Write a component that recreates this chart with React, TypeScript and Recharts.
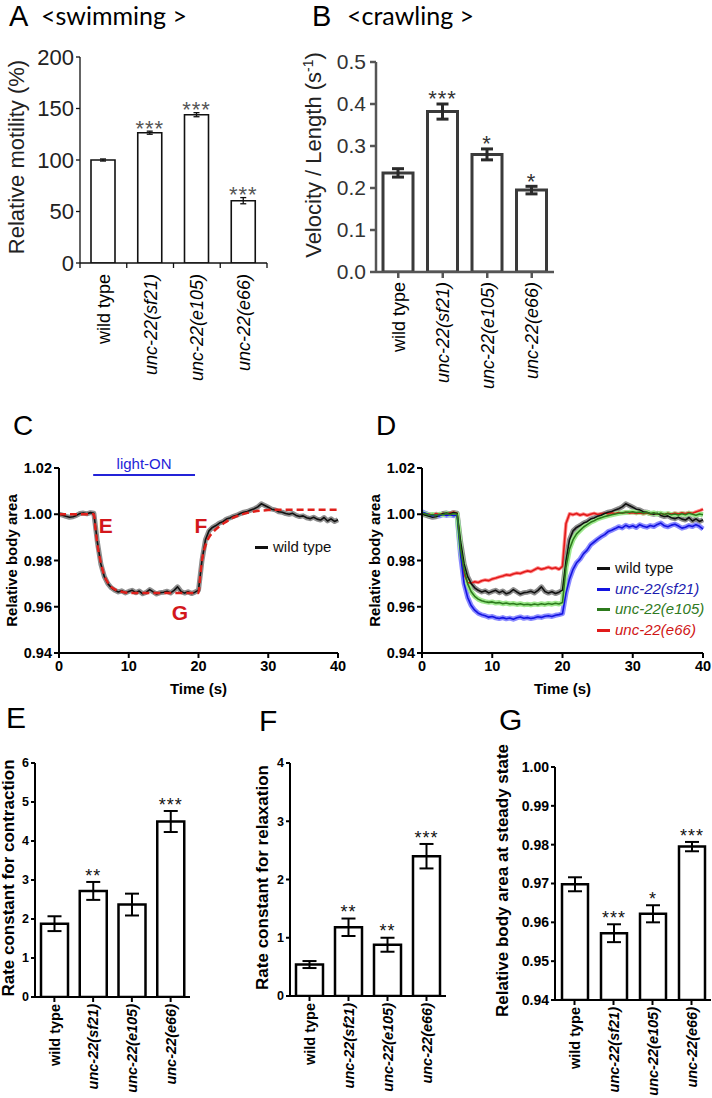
import React from "react";
import {
  BarChart,
  Bar,
  XAxis,
  YAxis,
  ErrorBar,
  LabelList,
  ComposedChart,
  Line,
  Scatter,
  ReferenceLine,
  Legend,
} from "recharts";

const ARIAL = "'Liberation Sans', Arial, Helvetica, sans-serif";
const TITLE_FONT = "Lato, 'Open Sans', sans-serif";

const strains = ["wild type", "unc-22(sf21)", "unc-22(e105)", "unc-22(e66)"];

// A: swimming
const swimMotility = [100, 126.5, 144, 60.5];
const swimSem = [1, 1.5, 2, 3];
const swimStars = ["", "***", "***", "***"];
const swimTicks = [0, 50, 100, 150, 200];

// B: crawling
const crawlVelocity = [0.236, 0.382, 0.28, 0.195];
const crawlSem = [0.01, 0.018, 0.013, 0.009];
const crawlStars = ["", "***", "*", "*"];
const crawlTicks = [0, 0.1, 0.2, 0.3, 0.4, 0.5];

// E: contraction rate
const contractionRate = [1.88, 2.72, 2.37, 4.5];
const contractionSem = [0.19, 0.23, 0.28, 0.27];
const contractionStars = ["", "**", "", "***"];
const contractionTicks = [0, 1, 2, 3, 4, 5, 6];

// F: relaxation rate
const relaxationRate = [0.54, 1.18, 0.88, 2.4];
const relaxationSem = [0.06, 0.15, 0.12, 0.21];
const relaxationStars = ["", "**", "**", "***"];
const relaxationTicks = [0, 1, 2, 3, 4];

// G: steady state body area
const steadyArea = [0.9698, 0.9572, 0.9622, 0.9795];
const steadySem = [0.0018, 0.0023, 0.0022, 0.0012];
const steadyStars = ["", "***", "*", "***"];
const steadyTicks = [0.94, 0.95, 0.96, 0.97, 0.98, 0.99, 1.0];

// C / D: body area traces, one sample every 0.5 s from 0 to 40 s
const SAMPLE_STEP = 0.5;
const timeTicks = [0, 10, 20, 30, 40];
const areaTicks = [0.94, 0.96, 0.98, 1.0, 1.02];

const wildTypeTrace = [
  1.0, 0.9996, 0.9991, 0.9987, 0.9989, 0.9995, 1.0003, 1.0005, 1.0002, 1.0007,
  1.0004, 0.988, 0.9785, 0.973, 0.97, 0.9682, 0.9671, 0.9664, 0.9669, 0.966,
  0.9666, 0.9671, 0.9661, 0.9668, 0.9656, 0.9662, 0.9674, 0.9664, 0.9655, 0.9661,
  0.9663, 0.9667, 0.966, 0.9671, 0.9686, 0.9666, 0.9659, 0.9665, 0.9657, 0.9663,
  0.9672, 0.98, 0.989, 0.9928, 0.9943, 0.9951, 0.9962, 0.9968, 0.9979, 0.9984,
  0.9991, 0.9996, 1.0003, 1.0009, 1.0012, 1.0018, 1.0024, 1.0032, 1.0045, 1.0038,
  1.003, 1.0022, 1.0019, 1.0011, 1.0009, 1.0003, 1.0, 1.0004, 0.9995, 0.999,
  0.9993, 0.9985, 0.9981, 0.9987, 0.9979, 0.9975, 0.9986, 0.9971, 0.998, 0.9969,
  0.9976,
];

const sf21Trace = [
  1.001, 1.0004, 0.9998, 0.9994, 0.9997, 0.9993, 0.9999, 0.9995, 0.9998, 0.9994,
  0.9996, 0.982, 0.97, 0.964, 0.9605, 0.9585, 0.9572, 0.9565, 0.9561, 0.9555,
  0.9558, 0.9552, 0.9549, 0.9553, 0.9548, 0.9551, 0.9546, 0.9552, 0.9556, 0.955,
  0.9553, 0.9549, 0.9552, 0.9557, 0.9554, 0.9559, 0.9561, 0.9558, 0.9563, 0.9566,
  0.957, 0.966, 0.972, 0.9762, 0.979, 0.9806, 0.983, 0.9845, 0.9868, 0.988,
  0.9892, 0.9903, 0.9912, 0.9925, 0.9931, 0.9938, 0.9946, 0.9941, 0.9952, 0.9945,
  0.995, 0.9943, 0.9955, 0.9948, 0.9944, 0.9951, 0.9947, 0.9956, 0.9962, 0.995,
  0.9946, 0.9953, 0.9957, 0.9949, 0.994, 0.9944, 0.9951, 0.9947, 0.9955, 0.9948,
  0.9936,
];

const e105Trace = [
  1.0005, 1.0001, 0.9997, 0.9999, 0.9995, 1.0, 0.9998, 1.0003, 0.9999, 1.0002,
  1.0, 0.985, 0.976, 0.97, 0.9665, 0.9645, 0.9633, 0.9626, 0.9622, 0.9619,
  0.9621, 0.9616, 0.9618, 0.9613, 0.9616, 0.9612, 0.9614, 0.961, 0.9613, 0.9609,
  0.9611, 0.9608, 0.9612, 0.9609, 0.9613, 0.961, 0.9614, 0.9611, 0.9615, 0.9612,
  0.9618, 0.977, 0.985, 0.989, 0.9915, 0.993, 0.9945, 0.9955, 0.9965, 0.9972,
  0.998, 0.9985, 0.999, 0.9994, 0.9998, 1.0001, 1.0004, 1.0006, 1.0008, 1.0009,
  1.0011, 1.0007, 1.001, 1.0005, 1.0008, 1.0003, 1.0006, 1.0001, 1.0004, 0.9999,
  1.0003, 0.9998, 1.0001, 0.9997, 1.0002, 0.9998, 1.0004, 1.0, 0.9996, 1.0001,
  0.9998,
];

const e66Trace = [
  1.0002, 0.9998, 1.0001, 0.9996, 1.0003, 0.9999, 1.0004, 1.0, 1.0006, 1.001,
  1.0004, 0.985, 0.974, 0.9705, 0.9702, 0.9708, 0.9705, 0.9712, 0.9716, 0.9713,
  0.972, 0.9724, 0.9729, 0.9733, 0.9738, 0.9736, 0.9742, 0.9746, 0.9744, 0.975,
  0.9755, 0.9752, 0.976, 0.9768, 0.9762, 0.9766, 0.9771, 0.9765, 0.9769, 0.9762,
  0.9775, 0.996, 1.0002, 0.9998, 1.0003, 0.9996, 1.0001, 0.9995, 1.0, 1.0004,
  0.9999, 1.0002, 1.0005, 1.0001, 1.0006, 1.0003, 1.0008, 1.0004, 1.0009, 1.0005,
  1.0007, 1.0003, 1.0006, 1.0002, 1.0005, 1.0001, 1.0004, 1.0, 1.0003, 0.9999,
  1.0004, 1.0001, 1.0005, 1.0002, 1.0006, 1.0003, 1.0008, 1.0004, 1.001, 1.0015,
  1.0022,
];

// C: fitted curve (red dashed)
const fitTime = [0, 5, 5.25, 5.5, 6, 6.5, 7, 7.5, 8, 9, 10, 20, 20.25, 20.5, 21, 21.5, 22, 23, 24, 25, 26, 27, 28, 30, 32, 40];
const fitValue = [
  1.0, 1.0, 0.993, 0.987, 0.979, 0.9735, 0.9705, 0.9685, 0.9675, 0.9665, 0.966, 0.966, 0.9735,
  0.98, 0.9865, 0.99, 0.992, 0.9948, 0.9968, 0.9985, 0.9997, 1.0006, 1.0012, 1.0018, 1.002, 1.002,
];

// C: light-ON period and E/F/G markers
const lightOn = [4.9, 19.5];
const lightOnLevel = 1.017;
const markerText = ["E", "F", "G"];
const markerTime = [6.7, 20.35, 17.35];
const markerLevel = [0.9953, 0.9953, 0.9573];

const traceColors = ["#111111", "#1414e0", "#2c7a1c", "#e11a1a"];
const bandColors = ["#8e8e8e", "#8a8aff", "#9fe98f", "#ff8a8a"];
const legendTextColors = ["#111111", "#1c1cb0", "#2f7a22", "#d01515"];

type Theme = {
  weight: number | string;
  tickSize: number;
  tickColor: string;
  axisColor: string;
  axisWidth: number;
  yTickLen: number;
  yTickGap: number;
  xTickLen: number;
  barStroke: string;
  barStrokeWidth: number;
  errStroke: string;
  errWidth: number;
  capHalf: number;
  starSize: number;
  starColor: string;
  starGap: number;
  starWeight: number | string;
  xLabelSize: number;
  xLabelGap: number;
  titleSize: number;
  titleColor: string;
};

const themeA: Theme = {
  weight: "normal", tickSize: 22, tickColor: "#222", axisColor: "#111", axisWidth: 1.3,
  yTickLen: 4, yTickGap: 2, xTickLen: 5, barStroke: "#111", barStrokeWidth: 1.6,
  errStroke: "#111", errWidth: 1.3, capHalf: 3, starSize: 22, starColor: "#555", starGap: 5,
  starWeight: "normal", xLabelSize: 18, xLabelGap: 11, titleSize: 22, titleColor: "#222",
};

const themeB: Theme = {
  weight: "normal", tickSize: 21, tickColor: "#333", axisColor: "#555", axisWidth: 2.5,
  yTickLen: 6, yTickGap: 4, xTickLen: 6, barStroke: "#3a3a3a", barStrokeWidth: 3,
  errStroke: "#2a2a2a", errWidth: 3, capHalf: 6, starSize: 22, starColor: "#333", starGap: 7,
  starWeight: "normal", xLabelSize: 18, xLabelGap: 10, titleSize: 22, titleColor: "#222",
};

const themeEF: Theme = {
  weight: "bold", tickSize: 12.5, tickColor: "#000", axisColor: "#000", axisWidth: 2,
  yTickLen: 4, yTickGap: 2, xTickLen: 5, barStroke: "#000", barStrokeWidth: 2.5,
  errStroke: "#000", errWidth: 2, capHalf: 7, starSize: 18, starColor: "#111", starGap: 8,
  starWeight: "normal", xLabelSize: 14.5, xLabelGap: 7, titleSize: 17, titleColor: "#000",
};

const themeG: Theme = { ...themeEF, tickSize: 14 };

type BarPanelProps = {
  left: number;
  top: number;
  width: number;
  height: number;
  marginTop: number;
  marginRight: number;
  yAxisWidth: number;
  xAxisHeight: number;
  values: number[];
  sems: number[];
  stars: string[];
  domain: [number, number];
  ticks: number[];
  decimals: number;
  barSize: number;
  boundaryTicks?: boolean;
  title: React.ReactNode;
  titleX: number;
  titleDy: number;
  theme: Theme;
};

function BarPanel(p: BarPanelProps) {
  const t = p.theme;
  const plotLeft = p.yAxisWidth;
  const plotRight = p.width - p.marginRight;
  const plotBottom = p.height - p.xAxisHeight;
  const band = (plotRight - plotLeft) / strains.length;
  const base = p.domain[0];
  const rows = strains.map((name, i) => ({
    name,
    value: p.values[i],
    err: p.sems[i],
    star: p.stars[i],
  }));

  const renderTick = (tp: any) => {
    const { x, y, payload, index } = tp;
    const label = String(payload.value);
    const italic = label !== "wild type";
    const marks: number[] = [];
    if (p.boundaryTicks) {
      if (index === 0) marks.push(x - band / 2);
      marks.push(x + band / 2);
    } else {
      marks.push(x);
    }
    return (
      <g>
        {marks.map((mx, i) => (
          <line key={i} x1={mx} x2={mx} y1={y} y2={y + t.xTickLen} stroke={t.axisColor} strokeWidth={t.axisWidth} />
        ))}
        <text
          transform={`translate(${x + t.xLabelSize * 0.36},${y + t.xLabelGap}) rotate(-90)`}
          textAnchor="end"
          fontFamily={ARIAL}
          fontSize={t.xLabelSize}
          fontWeight={t.weight}
          fontStyle={italic ? "italic" : "normal"}
          fill="#000"
        >
          {label}
        </text>
      </g>
    );
  };

  const renderStar = (lp: any) => {
    const i = lp.index;
    const text = p.stars[i];
    if (!text) return null;
    const vb = lp.viewBox ?? lp;
    const h = Math.abs(vb.height);
    const k = h / (p.values[i] - base);
    const top = Math.min(vb.y, vb.y + vb.height);
    const capY = top - p.sems[i] * k;
    return (
      <text
        x={vb.x + vb.width / 2}
        y={capY - t.starGap + 0.43 * t.starSize}
        textAnchor="middle"
        fontFamily={ARIAL}
        fontSize={t.starSize}
        fontWeight={t.starWeight}
        letterSpacing={1}
        fill={t.starColor}
      >
        {text}
      </text>
    );
  };

  const renderTitle = () => {
    const cx = p.titleX - p.left;
    const cy = p.marginTop + (plotBottom - p.marginTop) / 2 + p.titleDy;
    return (
      <text
        transform={`translate(${cx + t.titleSize * 0.36},${cy}) rotate(-90)`}
        textAnchor="middle"
        fontFamily={ARIAL}
        fontSize={t.titleSize}
        fontWeight={t.weight}
        fill={t.titleColor}
      >
        {p.title}
      </text>
    );
  };

  return (
    <div style={{ position: "absolute", left: p.left, top: p.top }}>
      <BarChart
        width={p.width}
        height={p.height}
        data={rows}
        margin={{ top: p.marginTop, right: p.marginRight, bottom: 0, left: 0 }}
      >
        <XAxis
          dataKey="name"
          height={p.xAxisHeight}
          interval={0}
          tickLine={false}
          tickSize={0}
          tickMargin={0}
          axisLine={{ stroke: t.axisColor, strokeWidth: t.axisWidth }}
          tick={renderTick}
        />
        <YAxis
          width={p.yAxisWidth}
          domain={p.domain}
          ticks={p.ticks}
          interval={0}
          allowDataOverflow
          tickSize={t.yTickLen}
          tickMargin={t.yTickGap}
          tickFormatter={(v: number) => v.toFixed(p.decimals)}
          axisLine={{ stroke: t.axisColor, strokeWidth: t.axisWidth }}
          tickLine={{ stroke: t.axisColor, strokeWidth: t.axisWidth }}
          tick={{ fontFamily: ARIAL, fontSize: t.tickSize, fontWeight: t.weight as any, fill: t.tickColor }}
          label={renderTitle}
        />
        <Bar
          dataKey="value"
          barSize={p.barSize}
          fill="#ffffff"
          stroke={t.barStroke}
          strokeWidth={t.barStrokeWidth}
          isAnimationActive={false}
        >
          <ErrorBar
            dataKey="err"
            width={t.capHalf}
            stroke={t.errStroke}
            strokeWidth={t.errWidth}
            direction="y"
          />
          <LabelList dataKey="star" content={renderStar} />
        </Bar>
      </BarChart>
    </div>
  );
}

type TracePanelProps = {
  left: number;
  top: number;
  width: number;
  height: number;
  marginRight: number;
  yAxisWidth: number;
  titleX: number;
  showFit: boolean;
  legendLeft: number;
  legendTop: number;
  seriesIdx: number[];
  drawOrder: number[];
};

const traces = [wildTypeTrace, sf21Trace, e105Trace, e66Trace];
const traceKeys = ["wt", "sf21", "e105", "e66"];

function TracePanel(p: TracePanelProps) {
  const marginTop = 68;
  const xAxisHeight = 47;
  const plotLeft = p.yAxisWidth;
  const plotRight = p.width - p.marginRight;
  const plotBottom = p.height - xAxisHeight;

  const rows = wildTypeTrace.map((_, i) => {
    const row: Record<string, number> = { t: i * SAMPLE_STEP };
    traces.forEach((tr, k) => {
      row[traceKeys[k]] = tr[i];
    });
    return row;
  });
  const fitRows = fitTime.map((t, i) => ({ t, fit: fitValue[i] }));
  const markerRows = markerText.map((text, i) => ({ t: markerTime[i], v: markerLevel[i], text }));

  const axisStyle = { stroke: "#000", strokeWidth: 2 };
  const tickStyle = { fontFamily: ARIAL, fontSize: 14.5, fontWeight: "bold" as any, fill: "#000" };

  const yTitle = () => (
    <text
      transform={`translate(${p.titleX - p.left + 5},${marginTop + (plotBottom - marginTop) / 2}) rotate(-90)`}
      textAnchor="middle"
      fontFamily={ARIAL}
      fontSize={15}
      fontWeight="bold"
      fill="#000"
    >
      Relative body area
    </text>
  );
  const xTitle = () => (
    <text
      x={(plotLeft + plotRight) / 2}
      y={plotBottom + 41}
      textAnchor="middle"
      fontFamily={ARIAL}
      fontSize={15}
      fontWeight="bold"
      fill="#000"
    >
      Time (s)
    </text>
  );

  const renderMarker = (sp: any) => (
    <text
      x={sp.cx}
      y={sp.cy + 7.5}
      textAnchor="middle"
      fontFamily={ARIAL}
      fontSize={21}
      fontWeight="bold"
      fill="#d3171c"
    >
      {sp.payload.text}
    </text>
  );

  const legend = () => (
    <div style={{ fontFamily: ARIAL, fontSize: 15, lineHeight: "20.7px" }}>
      {p.seriesIdx.map((k) => (
        <div
          key={k}
          style={{
            display: "flex",
            alignItems: "center",
            whiteSpace: "nowrap",
            color: legendTextColors[k],
            fontStyle: k === 0 ? "normal" : "italic",
          }}
        >
          <span
            style={{
              display: "inline-block",
              width: 13,
              height: 3,
              background: traceColors[k],
              marginRight: 5,
            }}
          />
          {strains[k]}
        </div>
      ))}
    </div>
  );

  return (
    <div style={{ position: "absolute", left: p.left, top: p.top }}>
      <ComposedChart
        width={p.width}
        height={p.height}
        data={rows}
        margin={{ top: marginTop, right: p.marginRight, bottom: 0, left: 0 }}
      >
        <XAxis
          dataKey="t"
          type="number"
          domain={[0, 40]}
          ticks={timeTicks}
          interval={0}
          height={xAxisHeight}
          tickSize={5}
          tickMargin={3}
          axisLine={axisStyle}
          tickLine={axisStyle}
          tick={tickStyle}
          label={xTitle}
        />
        <YAxis
          width={p.yAxisWidth}
          type="number"
          domain={[0.94, 1.02]}
          ticks={areaTicks}
          interval={0}
          allowDataOverflow
          tickSize={5}
          tickMargin={2}
          tickFormatter={(v: number) => v.toFixed(2)}
          axisLine={axisStyle}
          tickLine={axisStyle}
          tick={tickStyle}
          label={yTitle}
        />
        {p.drawOrder.map((k) => (
          <Line
            key={`band-${k}`}
            dataKey={traceKeys[k]}
            type="linear"
            dot={false}
            stroke={bandColors[k]}
            strokeWidth={k === 3 ? 3.5 : 5}
            strokeLinejoin="round"
            legendType="none"
            isAnimationActive={false}
          />
        ))}
        {p.drawOrder.map((k) => (
          <Line
            key={`line-${k}`}
            dataKey={traceKeys[k]}
            name={strains[k]}
            type="linear"
            dot={false}
            stroke={traceColors[k]}
            strokeWidth={1.6}
            strokeLinejoin="round"
            isAnimationActive={false}
          />
        ))}
        {p.showFit && (
          <Line
            data={fitRows}
            dataKey="fit"
            type="monotone"
            dot={false}
            stroke="#e0201b"
            strokeWidth={2.5}
            strokeDasharray="7 4"
            legendType="none"
            isAnimationActive={false}
          />
        )}
        {p.showFit && (
          <ReferenceLine
            segment={[
              { x: lightOn[0], y: lightOnLevel },
              { x: lightOn[1], y: lightOnLevel },
            ]}
            stroke="#2323d8"
            strokeWidth={2}
            label={{
              value: "light-ON",
              position: "top",
              offset: 6,
              fill: "#2323d8",
              fontSize: 15,
              fontFamily: ARIAL,
            }}
          />
        )}
        {p.showFit && (
          <Scatter
            data={markerRows}
            dataKey="v"
            shape={renderMarker}
            legendType="none"
            isAnimationActive={false}
          />
        )}
        <Legend
          layout="vertical"
          align="center"
          verticalAlign="middle"
          content={legend}
          wrapperStyle={{ left: p.legendLeft, top: p.legendTop, width: "auto" }}
        />
      </ComposedChart>
    </div>
  );
}

function PanelText({ x, y, size, font, children }: { x: number; y: number; size: number; font: string; children: React.ReactNode }) {
  return (
    <text x={x} y={y} fontFamily={font} fontSize={size} fill="#000">
      {children}
    </text>
  );
}

export default function App() {
  return (
    <div
      style={{
        position: "absolute",
        left: 0,
        top: 0,
        width: 712,
        height: 1098,
        background: "#ffffff",
        overflow: "hidden",
      }}
    >
      <BarPanel
        left={0}
        top={0}
        width={290}
        height={410}
        marginTop={57}
        marginRight={23}
        yAxisWidth={80}
        xAxisHeight={147}
        values={swimMotility}
        sems={swimSem}
        stars={swimStars}
        domain={[0, 200]}
        ticks={swimTicks}
        decimals={0}
        barSize={24}
        boundaryTicks
        title="Relative motility (%)"
        titleX={16}
        titleDy={-3}
        theme={themeA}
      />
      <BarPanel
        left={290}
        top={0}
        width={290}
        height={410}
        marginTop={62}
        marginRight={26}
        yAxisWidth={86}
        xAxisHeight={138}
        values={crawlVelocity}
        sems={crawlSem}
        stars={crawlStars}
        domain={[0, 0.5]}
        ticks={crawlTicks}
        decimals={1}
        barSize={30}
        title={
          <>
            Velocity / Length (s
            <tspan dy={-8} fontSize={14}>
              -1
            </tspan>
            <tspan dy={8}>)</tspan>
          </>
        }
        titleX={313}
        titleDy={-12}
        theme={themeB}
      />
      <TracePanel
        left={0}
        top={400}
        width={355}
        height={300}
        marginRight={17}
        yAxisWidth={59}
        titleX={12}
        showFit
        legendLeft={255}
        legendTop={137}
        seriesIdx={[0]}
        drawOrder={[0]}
      />
      <TracePanel
        left={355}
        top={400}
        width={357}
        height={300}
        marginRight={9}
        yAxisWidth={67}
        titleX={375}
        showFit={false}
        legendLeft={242}
        legendTop={158}
        seriesIdx={[0, 1, 2, 3]}
        drawOrder={[3, 0, 1, 2]}
      />
      <BarPanel
        left={0}
        top={700}
        width={215}
        height={398}
        marginTop={63}
        marginRight={25}
        yAxisWidth={35}
        xAxisHeight={101}
        values={contractionRate}
        sems={contractionSem}
        stars={contractionStars}
        domain={[0, 6]}
        ticks={contractionTicks}
        decimals={0}
        barSize={27}
        title="Rate constant for contraction"
        titleX={8}
        titleDy={-2}
        theme={themeEF}
      />
      <BarPanel
        left={215}
        top={700}
        width={250}
        height={398}
        marginTop={63}
        marginRight={19}
        yAxisWidth={75}
        xAxisHeight={102}
        values={relaxationRate}
        sems={relaxationSem}
        stars={relaxationStars}
        domain={[0, 4]}
        ticks={relaxationTicks}
        decimals={0}
        barSize={27}
        title="Rate constant for relaxation"
        titleX={262}
        titleDy={-2}
        theme={themeEF}
      />
      <BarPanel
        left={465}
        top={700}
        width={247}
        height={398}
        marginTop={67}
        marginRight={1}
        yAxisWidth={90}
        xAxisHeight={98}
        values={steadyArea}
        sems={steadySem}
        stars={steadyStars}
        domain={[0.94, 1.0]}
        ticks={steadyTicks}
        decimals={2}
        barSize={26}
        title="Relative body area at steady state"
        titleX={502}
        titleDy={-3}
        theme={themeG}
      />
      <svg
        width={712}
        height={1098}
        style={{ position: "absolute", left: 0, top: 0, pointerEvents: "none" }}
      >
        <PanelText x={9} y={26} size={29} font={ARIAL}>A</PanelText>
        <PanelText x={41} y={25} size={25} font={TITLE_FONT}>{"<swimming >"}</PanelText>
        <PanelText x={312} y={26} size={29} font={ARIAL}>B</PanelText>
        <PanelText x={347} y={25} size={25} font={TITLE_FONT}>{"<crawling >"}</PanelText>
        <PanelText x={13} y={435} size={28} font={ARIAL}>C</PanelText>
        <PanelText x={376} y={435} size={28} font={ARIAL}>D</PanelText>
        <PanelText x={6} y={728} size={30} font={ARIAL}>E</PanelText>
        <PanelText x={259} y={731} size={30} font={ARIAL}>F</PanelText>
        <PanelText x={499} y={730} size={30} font={ARIAL}>G</PanelText>
      </svg>
    </div>
  );
}
